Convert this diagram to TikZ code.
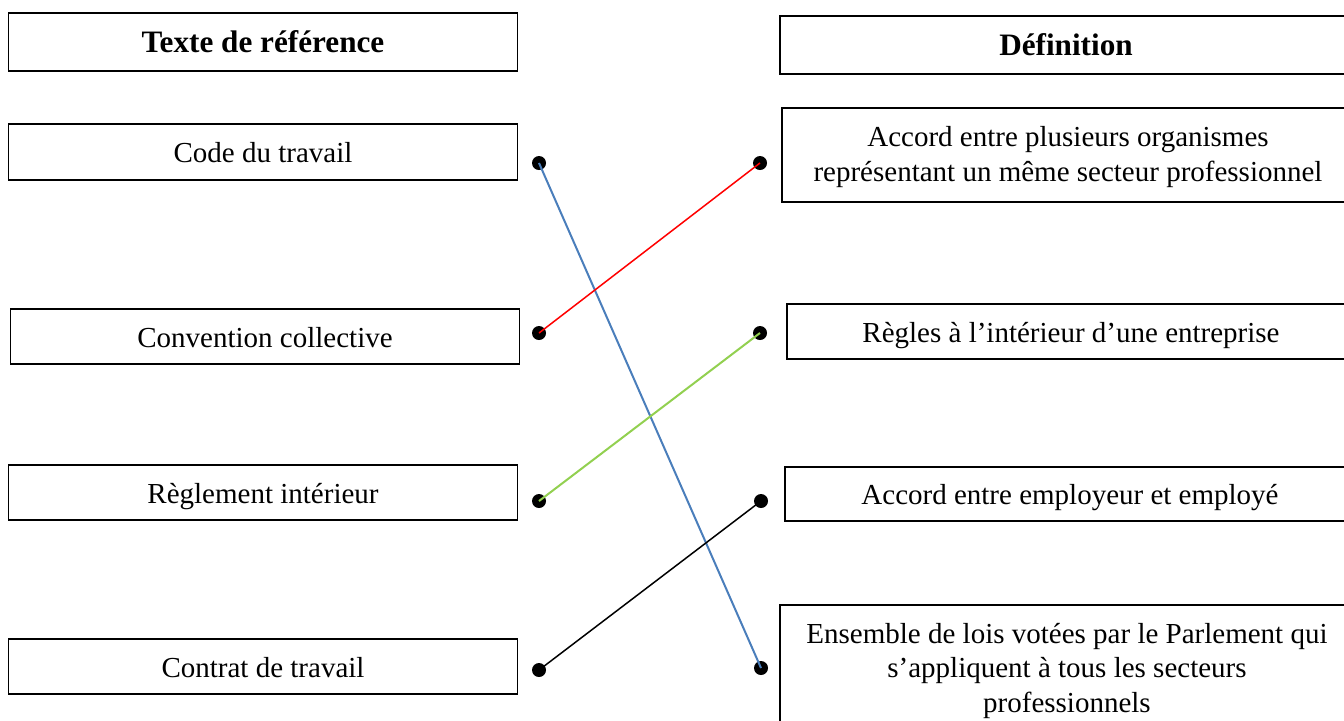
\documentclass[tikz,border=0pt]{standalone}
\usepackage{fontspec}
\setmainfont{Liberation Serif}
\newcommand\leftx{131.5}
\newcommand\rightx{534}
\newcommand\dotleft{269.5}
\newcommand\dotright{380.5}
\definecolor{lineblue}{HTML}{4A7EBB}
\definecolor{linegreen}{HTML}{92D050}
\tikzset{
  entrybox/.style={draw,line width=0.9pt,inner sep=0pt,align=center,
    font=\fontsize{14.5}{17.2}\selectfont},
  oneline/.style={text height=11pt,text depth=0.5pt},
  leftbox/.style={entrybox,oneline,minimum width=254.5pt,minimum height=28pt},
  rightbox/.style={entrybox,minimum width=286pt,minimum height=28pt},
  headbox/.style={font=\fontsize{15.6}{18}\selectfont\bfseries},
  linkdot/.style={circle,fill=black,inner sep=0pt,minimum size=7pt},
}

\begin{document}
\begin{tikzpicture}[x=1pt,y=-1pt]
    \useasboundingbox (0,0) rectangle (672,360);

    \node[leftbox,headbox,minimum height=29pt] (refhead) at (\leftx,21) {Texte de référence};
    \node[leftbox] (code) at (\leftx,76) {Code du travail};
    \node[leftbox,minimum height=27.5pt] (convention) at (132.5,168.25) {Convention collective};
    \node[leftbox,minimum height=27.5pt] (reglement) at (\leftx,246.25) {Règlement intérieur};
    \node[leftbox,minimum height=27.5pt] (contrat) at (\leftx,333.25) {Contrat de travail};

    \node[rightbox,oneline,headbox,minimum height=29pt] (defhead) at (533,22.5) {Définition};
    \node[rightbox,minimum height=47pt] (accord) at (\rightx,77.5) {\strut Accord entre plusieurs organismes \\
      représentant un même secteur professionnel};
    \node[rightbox,oneline,minimum width=284pt,minimum height=27.5pt] (regles) at (535.5,165.75) {Règles à l’intérieur d’une entreprise};
    \node[rightbox,oneline,minimum width=285pt,minimum height=27pt] (employe) at (535,247) {Accord entre employeur et employé};
    \node[rightbox,minimum width=287pt,minimum height=64pt] (ensemble) at (533.5,334.5) {\strut Ensemble de lois votées par le Parlement qui \\
      s’appliquent à tous les secteurs \\
      professionnels};

    \node[linkdot] (Lcode) at (\dotleft,81.5) {};
    \node[linkdot] (Lconvention) at (\dotleft,166.5) {};
    \node[linkdot] (Lreglement) at (\dotleft,250.5) {};
    \node[linkdot] (Lcontrat) at (\dotleft,335) {};

    \node[linkdot] (Raccord) at (380,81.5) {};
    \node[linkdot] (Rregles) at (380,166.5) {};
    \node[linkdot] (Remploye) at (\dotright,250.5) {};
    \node[linkdot] (Rensemble) at (\dotright,334) {};

    \draw[lineblue,line width=1pt] (Lcode.center) -- (Rensemble.center);
    \draw[red,line width=0.75pt] (Lconvention.center) -- (Raccord.center);
    \draw[linegreen,line width=1pt] (Lreglement.center) -- (Rregles.center);
    \draw[black,line width=0.75pt] (Lcontrat.center) -- (Remploye.center);
  \end{tikzpicture}
\end{document}
